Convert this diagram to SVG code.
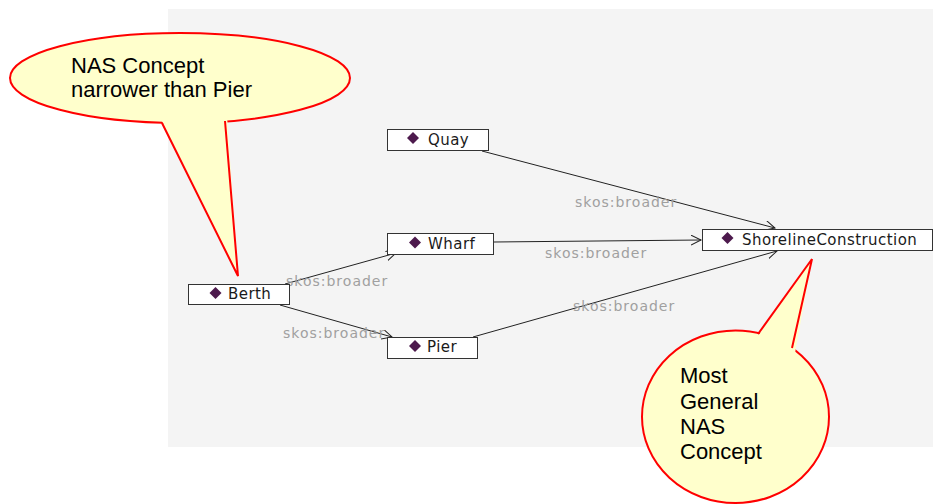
<svg xmlns="http://www.w3.org/2000/svg" width="933" height="504" viewBox="0 0 933 504">
<defs>
<style>
.node rect{fill:#ffffff;stroke:#333333;stroke-width:1}
.node text{font-family:"DejaVu Sans",Verdana,sans-serif;font-size:15px;fill:#1a1a1a;letter-spacing:0.45px}
.dia{fill:#4d1a4d}
.edge{stroke:#222222;stroke-width:1;fill:none;marker-end:url(#arr)}
.lbl{font-family:"DejaVu Sans",Verdana,sans-serif;font-size:14px;fill:#a0a0a0;letter-spacing:1px}
.bub{fill:#ffffcc;stroke:#ff0000;stroke-width:2}
.bubfill{fill:#ffffcc;stroke:none}
.bubedge{fill:none;stroke:#ff0000;stroke-width:2;stroke-linejoin:miter}
.btxt{font-family:"Liberation Sans",Arial,sans-serif;font-size:22px;fill:#000000}
</style>
<marker id="arr" markerWidth="12" markerHeight="12" refX="10" refY="5" orient="auto" markerUnits="userSpaceOnUse">
<path d="M0,0 L10,5 L0,10" fill="none" stroke="#222222" stroke-width="1"/>
</marker>
</defs>
<rect x="0" y="0" width="933" height="504" fill="#ffffff"/>
<rect x="168" y="9" width="765" height="438" fill="#f4f4f4"/>
<g id="connectors">
<line class="edge" x1="482" y1="151" x2="775" y2="228"/>
<line class="edge" x1="494" y1="242" x2="701" y2="240"/>
<line class="edge" x1="473" y1="337" x2="777" y2="251"/>
<line class="edge" x1="285" y1="284" x2="396" y2="253"/>
<line class="edge" x1="280" y1="305" x2="392" y2="337"/>
<text class="lbl" x="575" y="207">skos:broader</text>
<text class="lbl" x="545" y="258">skos:broader</text>
<text class="lbl" x="573" y="311">skos:broader</text>
<text class="lbl" x="286" y="286">skos:broader</text>
<text class="lbl" x="283" y="338">skos:broader</text>
</g>
<g id="node-quay" class="node">
<rect x="387.5" y="129.5" width="101" height="21"/>
<path class="dia" d="M413,132 L419,138 L413,144 L407,138 Z"/>
<text x="428" y="145">Quay</text>
</g>
<g id="node-wharf" class="node">
<rect x="387.5" y="233.5" width="106" height="21"/>
<path class="dia" d="M415,236.5 L421,242.5 L415,248.5 L409,242.5 Z"/>
<text x="428" y="249">Wharf</text>
</g>
<g id="node-berth" class="node">
<rect x="188.5" y="284.5" width="101" height="20"/>
<path class="dia" d="M215.5,287 L221.5,293 L215.5,299 L209.5,293 Z"/>
<text x="228" y="299">Berth</text>
</g>
<g id="node-pier" class="node">
<rect x="387.5" y="337.5" width="90" height="21"/>
<path class="dia" d="M415,340 L421,346 L415,352 L409,346 Z"/>
<text x="427" y="352">Pier</text>
</g>
<g id="node-shoreline" class="node">
<rect x="702.5" y="229.5" width="230" height="21"/>
<path class="dia" d="M727.5,232 L733.5,238 L727.5,244 L721.5,238 Z"/>
<text x="742" y="245">ShorelineConstruction</text>
</g>
<g id="callout-berth">
<ellipse class="bub" cx="180" cy="78" rx="170" ry="45"/>
<polygon class="bubfill" points="160,117 238,276 227,116"/>
<polyline class="bubedge" points="162,123 238,276 225,121"/>
<text class="btxt" x="71" y="73">NAS Concept</text>
<text class="btxt" x="71" y="97">narrower than Pier</text>
</g>
<g id="callout-shoreline">
<ellipse class="bub" cx="735.5" cy="416.7" rx="93.5" ry="86.3"/>
<polygon class="bubfill" points="756,339 812,259 795,353"/>
<polyline class="bubedge" points="758,334 812,259 792,348"/>
<text class="btxt" x="680" y="383">Most</text>
<text class="btxt" x="680" y="409">General</text>
<text class="btxt" x="680" y="434">NAS</text>
<text class="btxt" x="680" y="459">Concept</text>
</g>
</svg>
